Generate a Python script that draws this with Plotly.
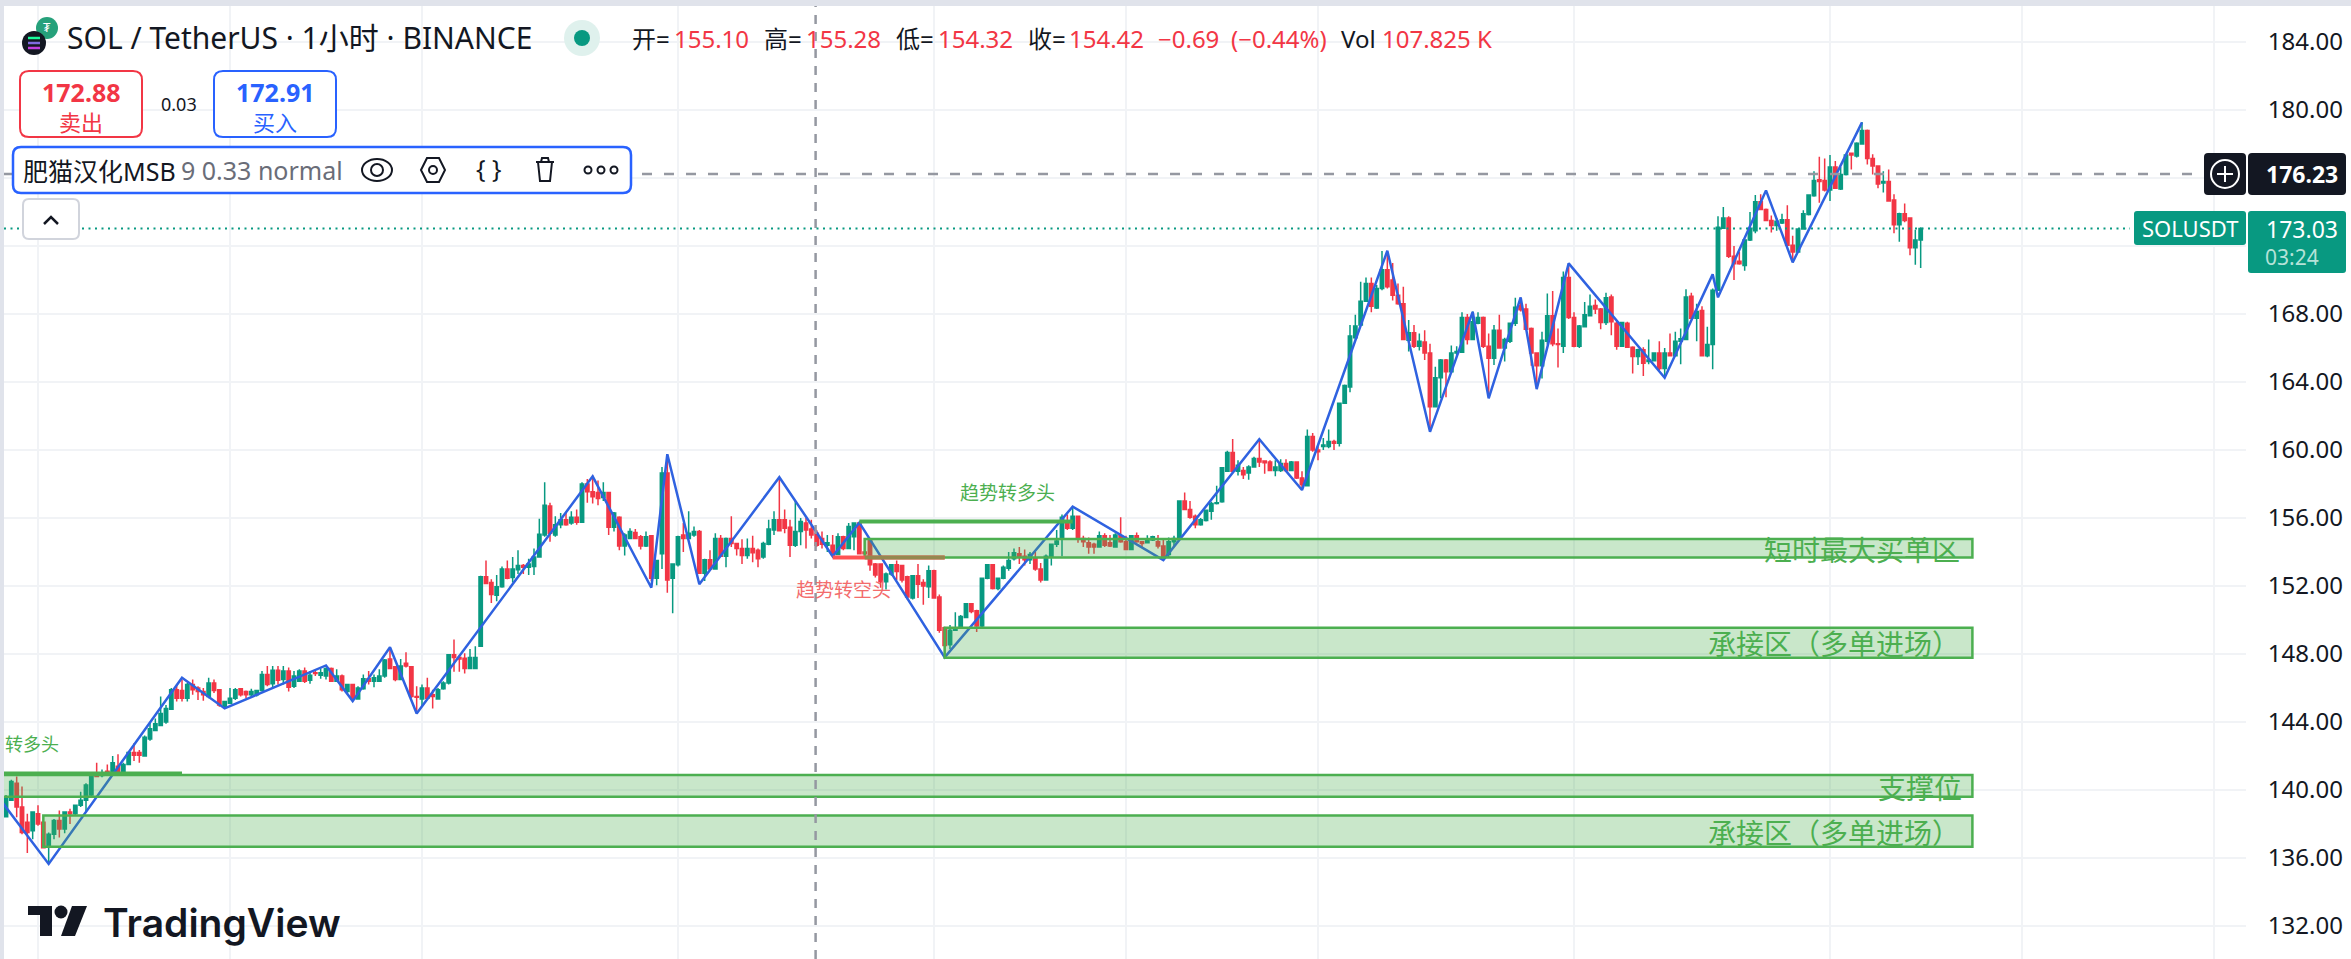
# coding: utf-8
import plotly.graph_objects as go

# hourly bars, index 0 sits on the first vertical grid line
bar_index = list(range(-6, 354))

open_prices = [
    138.43, 139.4, 140.4, 139.0, 138.1, 137.6, 138.6, 138.1, 136.7, 137.4,
    138.2, 137.7, 138.7, 138.6, 139.1, 139.4, 139.7, 140.9, 140.85, 141.1,
    141.0, 141.4, 141.0, 141.5, 142.2, 142.2, 142.0, 143.0, 143.5, 143.8,
    144.0, 144.75, 145.9, 145.85, 145.4, 146.2, 146.0, 145.8, 145.5, 146.3,
    145.9, 144.9, 145.1, 145.4, 145.95, 145.8, 145.6, 145.6, 145.85, 146.8,
    146.25, 147.05, 146.5, 147.0, 146.1, 146.4, 147.0, 146.45, 146.9, 146.75,
    146.7, 147.15, 146.4, 146.7, 145.8, 146.2, 145.35, 145.95, 146.55, 146.4,
    146.4, 146.7, 147.7, 147.25, 146.5, 147.45, 147.25, 145.5, 145.35, 146.0,
    145.6, 145.35, 145.95, 146.3, 147.95, 147.8, 147.75, 147.15, 147.15, 148.45,
    152.55, 152.2, 151.45, 151.95, 153.0, 152.5, 152.95, 153.2, 153.1, 153.15,
    153.7, 155.0, 156.7, 155.0, 155.6, 155.9, 155.7, 156.05, 155.75, 158.0,
    157.55, 157.5, 157.2, 157.5, 155.45, 156.05, 154.35, 154.8, 155.15, 154.9,
    154.35, 154.95, 152.45, 153.9, 158.65, 152.45, 153.25, 155.0, 154.8, 155.0,
    155.2, 152.75, 153.55, 153.0, 154.8, 153.75, 154.8, 154.5, 154.2, 153.8,
    154.2, 154.1, 153.7, 154.45, 155.3, 155.9, 155.9, 155.45, 154.4, 155.2,
    155.7, 155.35, 155.1, 154.8, 154.4, 154.4, 153.85, 154.9, 154.2, 154.9,
    155.7, 154.0, 154.7, 153.3, 153.3, 152.25, 152.7, 153.25, 153.2, 152.55,
    151.3, 152.6, 152.2, 151.95, 152.9, 151.35, 149.55, 148.55, 149.4, 149.55,
    150.15, 150.95, 150.55, 149.65, 152.45, 153.25, 151.85, 152.45, 153.05, 153.6,
    153.9, 153.75, 153.55, 153.65, 153.0, 152.35, 153.75, 154.45, 154.8, 155.7,
    155.4, 156.1, 154.8, 154.55, 154.45, 154.3, 154.95, 154.55, 154.3, 154.95,
    154.6, 154.15, 154.95, 154.6, 154.55, 154.7, 154.6, 154.35, 153.85, 154.6,
    154.8, 157.0, 156.5, 156.1, 155.6, 155.85, 156.4, 156.85, 156.95, 158.75,
    159.85, 158.75, 158.8, 158.65, 159.0, 159.5, 159.35, 159.3, 158.8, 158.8,
    159.2, 158.8, 159.3, 158.35, 157.9, 160.8, 160.0, 160.2, 160.2, 160.5,
    160.4, 162.75, 163.7, 166.6, 167.35, 168.75, 169.8, 168.35, 169.5, 170.6,
    170.0, 169.1, 168.6, 166.45, 166.9, 166.1, 166.35, 165.7, 162.55, 164.25,
    165.3, 164.6, 165.7, 165.75, 167.8, 166.5, 167.45, 167.8, 166.1, 165.4,
    167.05, 166.0, 166.4, 167.45, 168.5, 168.3, 167.15, 165.7, 164.95, 166.4,
    167.9, 166.25, 166.1, 170.15, 167.8, 166.1, 167.25, 167.9, 168.5, 168.3,
    167.5, 169.0, 167.45, 166.1, 167.45, 166.05, 165.5, 165.9, 165.2, 165.25,
    165.7, 164.8, 165.7, 165.55, 166.4, 166.5, 169.05, 167.75, 168.2, 165.55,
    166.2, 169.4, 173.05, 173.65, 171.4, 171.1, 170.85, 172.35, 172.9, 174.6,
    174.15, 173.5, 173.2, 173.35, 173.55, 172.05, 171.65, 173.0, 173.85, 174.95,
    175.9, 175.85, 175.3, 176.65, 175.35, 176.2, 177.45, 177.3, 178.0, 178.8,
    177.15, 176.7, 175.7, 175.8, 174.7, 173.25, 173.9, 173.65, 171.9, 172.35,
]
high_prices = [
    139.7, 140.6, 140.8, 140.2, 138.6, 138.7, 139.1, 138.2, 137.5, 138.3,
    138.8, 138.7, 138.9, 139.1, 139.9, 140.4, 140.9, 141.6, 141.2, 141.5,
    142.0, 142.1, 141.6, 142.3, 142.75, 142.35, 143.2, 144.0, 144.2, 145.5,
    145.0, 146.0, 146.2, 146.5, 146.3, 146.5, 146.1, 146.0, 146.6, 146.5,
    145.9, 145.25, 146.0, 146.0, 146.0, 145.85, 145.95, 145.9, 147.0, 147.3,
    147.3, 147.3, 147.3, 147.2, 147.0, 147.1, 147.2, 147.0, 147.0, 147.15,
    147.2, 147.2, 147.1, 146.8, 146.2, 146.2, 146.1, 146.8, 147.0, 146.8,
    147.1, 147.7, 148.3, 147.3, 147.7, 148.1, 147.3, 146.1, 146.2, 146.6,
    145.9, 146.0, 146.4, 148.0, 148.85, 147.9, 148.05, 148.3, 148.45, 152.6,
    153.5, 152.4, 152.65, 153.15, 153.5, 153.7, 154.1, 153.3, 153.6, 154.2,
    155.95, 158.1, 156.9, 156.1, 156.3, 156.35, 156.4, 156.5, 158.1, 158.3,
    158.5, 158.2, 158.1, 157.55, 156.35, 156.1, 155.1, 155.4, 155.35, 155.0,
    155.2, 155.0, 153.5, 159.0, 159.7, 153.3, 154.95, 155.7, 156.4, 155.5,
    155.3, 153.6, 154.1, 155.1, 155.0, 154.85, 156.1, 154.55, 154.75, 154.8,
    154.95, 154.2, 154.6, 155.9, 156.4, 158.4, 156.5, 155.9, 157.0, 156.0,
    156.0, 155.9, 155.3, 155.2, 155.0, 155.0, 155.1, 154.95, 155.7, 155.75,
    155.75, 154.8, 154.75, 153.35, 153.3, 152.8, 153.3, 153.5, 153.2, 152.6,
    152.6, 153.3, 152.4, 153.2, 152.95, 151.5, 149.6, 149.7, 150.45, 150.3,
    151.0, 151.0, 150.6, 152.5, 153.3, 153.3, 152.5, 153.2, 154.0, 154.2,
    154.3, 154.15, 154.0, 154.0, 153.35, 153.85, 154.5, 155.3, 156.2, 156.2,
    156.7, 156.15, 154.95, 154.85, 154.55, 155.2, 155.1, 155.0, 155.1, 156.05,
    154.95, 155.0, 155.15, 154.65, 154.98, 154.95, 155.0, 154.7, 154.85, 154.95,
    157.05, 157.5, 157.0, 156.2, 156.0, 156.5, 156.95, 157.9, 159.0, 159.95,
    160.65, 159.4, 159.0, 159.1, 159.6, 160.6, 159.4, 159.4, 159.4, 159.45,
    159.45, 159.35, 159.3, 158.75, 161.2, 161.0, 160.2, 160.7, 161.2, 160.6,
    162.8, 163.85, 167.35, 167.95, 169.9, 170.15, 170.15, 169.7, 171.7, 171.65,
    171.0, 169.8, 169.6, 167.65, 167.35, 166.85, 167.05, 166.25, 164.9, 165.35,
    165.35, 166.15, 166.1, 168.1, 168.0, 168.15, 168.1, 167.85, 166.85, 167.35,
    167.95, 166.6, 167.5, 168.95, 168.95, 168.6, 167.2, 165.75, 166.95, 169.2,
    169.35, 167.15, 170.5, 171.0, 168.1, 167.35, 168.7, 169.15, 168.85, 168.35,
    169.25, 169.15, 167.65, 167.55, 167.55, 166.1, 165.95, 166.05, 166.5, 165.75,
    166.4, 166.0, 166.85, 166.95, 167.15, 169.45, 169.25, 168.6, 168.45, 167.25,
    169.5, 173.75, 174.3, 173.75, 172.0, 171.65, 172.4, 174.0, 175.0, 175.05,
    174.2, 173.8, 173.65, 173.9, 174.4, 172.6, 173.05, 174.1, 175.05, 176.4,
    177.25, 177.15, 177.35, 177.0, 176.65, 177.4, 177.5, 178.1, 179.3, 178.85,
    177.4, 176.75, 176.4, 176.5, 175.05, 173.95, 174.5, 173.65, 172.95, 173.1,
]
low_prices = [
    138.4, 139.4, 138.4, 137.4, 136.3, 137.1, 137.9, 136.6, 135.7, 137.1,
    137.2, 137.45, 138.0, 138.5, 139.0, 138.7, 139.6, 140.8, 140.75, 140.9,
    140.9, 140.9, 141.0, 141.5, 141.7, 141.6, 142.0, 142.9, 143.5, 143.8,
    143.9, 144.75, 145.2, 145.2, 145.2, 145.6, 145.3, 145.25, 145.4, 145.7,
    144.9, 144.85, 145.1, 145.3, 145.5, 145.4, 145.5, 145.5, 145.8, 146.1,
    146.0, 146.2, 146.2, 145.8, 146.0, 146.35, 146.3, 146.25, 146.7, 146.55,
    146.5, 146.35, 146.35, 145.8, 145.7, 145.2, 145.35, 145.9, 146.2, 146.05,
    146.4, 146.6, 147.1, 146.4, 146.45, 147.2, 145.4, 144.5, 144.9, 145.3,
    144.8, 145.35, 145.9, 146.2, 146.95, 146.95, 146.85, 147.1, 147.15, 148.45,
    152.1, 151.0, 151.1, 151.9, 152.4, 152.2, 152.7, 152.7, 152.65, 152.65,
    153.7, 154.9, 154.6, 154.9, 155.4, 155.55, 155.6, 155.6, 155.7, 156.9,
    156.85, 156.75, 157.0, 155.0, 155.2, 154.1, 153.8, 154.8, 154.75, 154.15,
    154.3, 152.3, 152.05, 153.0, 151.6, 150.4, 153.15, 154.0, 154.8, 154.9,
    152.7, 152.3, 152.9, 153.0, 153.7, 153.1, 154.3, 153.8, 153.3, 153.6,
    153.4, 153.1, 153.6, 154.4, 155.0, 155.2, 155.1, 153.7, 154.3, 154.4,
    154.2, 154.8, 154.3, 154.2, 154.0, 153.8, 153.85, 154.1, 154.2, 154.1,
    153.85, 153.85, 152.9, 152.5, 151.9, 151.8, 152.6, 152.35, 152.2, 151.2,
    151.2, 151.3, 150.9, 151.3, 151.25, 149.25, 147.85, 148.3, 149.4, 149.5,
    150.1, 150.4, 149.3, 149.55, 152.4, 151.8, 151.75, 152.4, 152.9, 153.5,
    153.3, 153.2, 153.3, 152.9, 152.2, 152.35, 153.2, 154.3, 153.75, 155.3,
    155.3, 154.55, 154.3, 153.9, 153.9, 154.3, 154.3, 154.3, 154.25, 154.55,
    154.1, 154.1, 154.55, 154.3, 154.5, 154.65, 154.2, 153.7, 153.7, 154.3,
    154.75, 156.45, 155.95, 155.4, 155.55, 155.8, 155.9, 156.8, 156.9, 158.7,
    158.7, 158.5, 158.3, 158.25, 158.95, 159.0, 158.6, 158.75, 158.45, 158.7,
    158.7, 158.75, 158.3, 157.7, 157.9, 159.9, 159.4, 160.0, 160.1, 160.0,
    160.2, 162.7, 163.4, 166.5, 167.3, 168.7, 168.1, 168.3, 169.4, 169.5,
    168.8, 168.55, 166.45, 165.8, 166.0, 165.85, 165.3, 161.1, 162.5, 163.05,
    163.1, 164.5, 165.5, 165.7, 166.2, 166.45, 167.4, 166.0, 163.1, 165.0,
    165.95, 165.2, 166.3, 167.3, 168.15, 167.05, 164.95, 163.9, 164.2, 166.2,
    166.1, 164.85, 165.7, 167.7, 166.05, 166.0, 167.2, 167.85, 168.0, 167.1,
    167.35, 166.75, 165.9, 166.1, 166.0, 164.5, 165.0, 164.35, 165.05, 165.2,
    164.7, 164.3, 165.5, 165.5, 165.05, 166.45, 167.7, 166.4, 165.5, 165.45,
    164.75, 169.35, 173.0, 171.3, 170.0, 170.9, 170.55, 172.3, 172.75, 174.1,
    173.45, 172.8, 172.9, 173.3, 172.0, 171.1, 171.6, 172.95, 173.8, 174.9,
    174.55, 175.2, 174.65, 175.35, 175.3, 176.15, 176.5, 177.2, 178.0, 176.8,
    176.2, 175.4, 175.15, 174.6, 172.75, 172.25, 173.4, 171.45, 170.9, 170.7,
]
close_prices = [
    139.6, 140.5, 139.0, 137.5, 137.5, 138.7, 138.0, 136.6, 137.4, 138.2,
    137.7, 138.7, 138.6, 139.1, 139.4, 140.3, 140.8, 140.8, 141.0, 141.0,
    141.6, 141.0, 141.5, 142.2, 142.05, 142.05, 143.1, 143.6, 143.9, 144.5,
    144.8, 145.9, 145.4, 145.4, 146.2, 145.9, 145.8, 145.6, 146.3, 145.85,
    145.0, 145.2, 145.4, 145.9, 145.6, 145.6, 145.8, 145.85, 146.8, 146.2,
    147.05, 146.45, 147.0, 146.05, 146.7, 147.0, 146.4, 146.75, 146.85, 146.9,
    147.15, 146.4, 146.7, 145.9, 146.2, 145.35, 146.0, 146.55, 146.4, 146.6,
    146.7, 147.65, 147.15, 146.5, 147.3, 147.3, 145.5, 145.45, 146.0, 145.4,
    145.5, 145.9, 146.3, 147.95, 147.8, 147.7, 147.15, 147.8, 147.8, 152.55,
    152.15, 151.5, 151.95, 153.0, 152.45, 153.0, 153.2, 153.1, 153.3, 153.7,
    155.05, 156.75, 155.1, 155.6, 155.9, 155.6, 156.05, 155.75, 158.0, 157.55,
    157.25, 157.15, 157.5, 155.45, 156.3, 154.35, 155.0, 155.2, 154.8, 154.35,
    154.9, 152.45, 153.5, 158.65, 152.35, 153.3, 154.9, 154.8, 155.1, 155.2,
    152.75, 153.55, 153.0, 154.8, 153.75, 154.8, 154.5, 154.2, 153.8, 154.2,
    153.95, 153.6, 154.5, 155.35, 155.9, 155.25, 155.4, 154.4, 155.2, 155.8,
    155.3, 155.0, 154.4, 154.45, 154.55, 153.85, 154.9, 154.2, 155.5, 155.7,
    153.9, 153.9, 153.25, 152.65, 152.25, 152.7, 153.25, 152.85, 152.35, 151.35,
    152.6, 152.1, 152.0, 152.9, 151.3, 149.4, 148.5, 149.4, 149.55, 150.2,
    150.95, 150.5, 149.65, 152.45, 153.25, 151.85, 152.45, 153.1, 153.5, 153.95,
    153.7, 153.55, 153.85, 153.0, 152.35, 153.75, 154.45, 154.65, 156.05, 155.4,
    156.1, 154.8, 154.6, 154.3, 154.3, 154.95, 154.4, 154.35, 155.0, 154.6,
    154.15, 154.95, 154.6, 154.5, 154.75, 154.9, 154.35, 153.75, 154.6, 154.8,
    157.0, 156.5, 156.05, 155.6, 155.9, 156.45, 156.85, 156.9, 158.95, 159.85,
    158.75, 159.1, 158.55, 159.0, 159.5, 159.3, 159.25, 158.8, 159.0, 159.2,
    158.8, 159.3, 158.35, 157.95, 160.8, 160.0, 159.9, 160.3, 160.5, 160.4,
    162.75, 163.8, 166.7, 167.3, 168.75, 169.8, 168.45, 169.5, 170.6, 169.6,
    169.1, 168.6, 166.5, 166.9, 166.1, 166.4, 165.7, 162.55, 164.25, 165.3,
    164.6, 165.7, 165.8, 167.8, 166.5, 167.55, 167.8, 166.1, 165.4, 167.05,
    166.0, 166.5, 167.45, 168.4, 168.25, 167.1, 165.7, 164.95, 166.45, 167.9,
    166.25, 166.2, 170.15, 167.8, 166.1, 167.3, 167.95, 168.45, 168.3, 167.5,
    168.95, 167.55, 166.1, 167.5, 166.05, 165.5, 165.9, 165.1, 165.3, 165.7,
    164.8, 165.7, 165.55, 166.4, 166.55, 169.0, 167.75, 168.15, 165.55, 166.2,
    169.4, 173.1, 173.65, 171.4, 170.95, 170.95, 172.35, 173.05, 174.6, 174.15,
    173.5, 173.2, 173.45, 173.55, 172.05, 171.65, 173.0, 173.9, 175.0, 175.85,
    175.8, 175.3, 176.65, 175.4, 176.2, 177.35, 177.35, 178.05, 178.8, 177.15,
    176.7, 175.65, 175.8, 174.65, 173.25, 173.9, 173.5, 171.9, 172.35, 173.03,
]

# MSB zigzag pivots
zigzag_bars = [-7, 2, 27, 35, 54, 59, 66, 71, 104, 115, 118, 124, 139, 149, 154, 170,
               194, 211, 229, 237, 253, 261, 269, 272, 278, 281, 287, 305, 314, 315,
               324, 329, 342]
zigzag_prices = [139.4, 135.65, 146.6, 144.8, 147.33, 145.23, 148.4, 144.5, 158.45, 151.9,
                 159.75, 152.1, 158.4, 153.75, 155.73, 147.8, 156.67, 153.53, 160.63, 157.65,
                 171.72, 161.07, 168.13, 163.04, 168.98, 163.58, 170.98, 164.25, 170.33,
                 168.98, 175.27, 171.04, 179.27]

# demand zones
zone_starts = [1, -12, 170, 155]
zone_tops = [138.5, 140.88, 149.55, 154.76]
zone_bottoms = [136.66, 139.6, 147.78, 153.67]
zone_end = 362.7

# structure break lines: bull left, bull mid, bear mid
bull_left_x, bull_left_y = [-12, 27], [140.98, 140.98]
bull_mid_x, bull_mid_y = [154, 194], [155.79, 155.79]
bear_mid_x, bear_mid_y = [149, 170], [153.67, 153.67]

price_ticks = [132, 136, 140, 144, 148, 152, 156, 160, 164, 168, 172, 176, 180, 184]
# 172 and 176 sit behind the price tags
price_tick_labels = ["132.00", "136.00", "140.00", "144.00", "148.00", "152.00", "156.00", "160.00",
                     "164.00", "168.00", "", "", "180.00", "184.00"]
time_grid = [0, 36, 72, 120, 168, 204, 240, 288, 336, 372, 408]

crosshair_bar = 145.8
crosshair_price = 176.23
last_price = 173.03

UP = "#089981"
DOWN = "#f23645"
INK = "#131722"
BLUE = "#2f62e0"
ZONE = "#4caf50"
GRID = "#f1f3f6"
CJK = "Noto Sans CJK SC"
LATIN = "Noto Sans, Noto Sans CJK SC"

W, H = 2351, 959
L, R, T, B = 4, 105, 6, 0


def fx(x):
    return (x - L) / (W - L - R)


def fy(y):
    return 1 - (y - T) / (H - T - B)


def label(x, y, text, size, color=INK, anchor="left", family=LATIN, weight="normal"):
    annotations.append(dict(xref="paper", yref="paper", x=fx(x), y=fy(y), text=text, showarrow=False,
                            xanchor=anchor, yanchor="middle", borderpad=0,
                            font=dict(size=size, color=color, family=family, weight=weight)))


def rounded(x0, y0, x1, y1, r):
    pts = "M{} {} L{} {} Q{} {} {} {} L{} {} Q{} {} {} {} L{} {} Q{} {} {} {} L{} {} Q{} {} {} {} Z".format(
        fx(x0 + r), fy(y0), fx(x1 - r), fy(y0), fx(x1), fy(y0), fx(x1), fy(y0 + r),
        fx(x1), fy(y1 - r), fx(x1), fy(y1), fx(x1 - r), fy(y1),
        fx(x0 + r), fy(y1), fx(x0), fy(y1), fx(x0), fy(y1 - r),
        fx(x0), fy(y0 + r), fx(x0), fy(y0), fx(x0 + r), fy(y0))
    return pts


def box(x0, y0, x1, y1, r, fill="white", line=None, width=2):
    shapes.append(dict(type="path", xref="paper", yref="paper", path=rounded(x0, y0, x1, y1, r),
                       fillcolor=fill, line=dict(color=line or fill, width=width if line else 0), layer="above"))


def poly(points, fill=None, line=None, width=2, close=True):
    path = "M" + " L".join("{} {}".format(fx(a), fy(b)) for a, b in points) + (" Z" if close else "")
    shapes.append(dict(type="path", xref="paper", yref="paper", path=path, fillcolor=fill or "rgba(0,0,0,0)",
                       line=dict(color=line or "rgba(0,0,0,0)", width=width), layer="above"))


def circle(cx, cy, rx, ry=None, fill=None, line=None, width=2):
    ry = ry or rx
    shapes.append(dict(type="circle", xref="paper", yref="paper", x0=fx(cx - rx), x1=fx(cx + rx),
                       y0=fy(cy + ry), y1=fy(cy - ry), fillcolor=fill or "rgba(0,0,0,0)",
                       line=dict(color=line or "rgba(0,0,0,0)", width=width if line else 0), layer="above"))


shapes = []
annotations = []

# zones sit over the candles
for start, top, bottom in zip(zone_starts, zone_tops, zone_bottoms):
    shapes.append(dict(type="rect", xref="x", yref="y", x0=start, x1=zone_end, y0=bottom, y1=top,
                       fillcolor="rgba(76,175,80,0.3)", line=dict(color=ZONE, width=2.5), layer="above"))

for xs, ys, color, width in [(bull_left_x, bull_left_y, ZONE, 3.5), (bull_mid_x, bull_mid_y, ZONE, 4),
                             (bear_mid_x, bear_mid_y, "#ff5252", 4), ([155, 170], bear_mid_y, "#94884f", 4)]:
    shapes.append(dict(type="line", xref="x", yref="y", x0=xs[0], x1=xs[1], y0=ys[0], y1=ys[1],
                       line=dict(color=color, width=width), layer="above"))

# crosshair and last price line
shapes.append(dict(type="line", xref="x", yref="paper", x0=crosshair_bar, x1=crosshair_bar, y0=0, y1=1,
                   line=dict(color="#9598a1", width=2.5, dash="9px,8px"), layer="above"))
shapes.append(dict(type="line", xref="paper", yref="y", x0=0, x1=fx(2192), y0=crosshair_price, y1=crosshair_price,
                   line=dict(color="#9598a1", width=2.5, dash="10px,12px"), layer="above"))
shapes.append(dict(type="line", xref="paper", yref="y", x0=0, x1=fx(2130), y0=last_price, y1=last_price,
                   line=dict(color=UP, width=2, dash="2px,4.5px"), layer="above"))

# window edge
shapes.append(dict(type="rect", xref="paper", yref="paper", x0=fx(0), x1=fx(W), y0=fy(6), y1=fy(0),
                   fillcolor="#e0e3eb", line=dict(width=0), layer="above"))
shapes.append(dict(type="rect", xref="paper", yref="paper", x0=fx(0), x1=fx(4), y0=fy(H), y1=fy(0),
                   fillcolor="#e0e3eb", line=dict(width=0), layer="above"))

# symbol icons
circle(47, 28, 11, fill="#26a17b")
circle(34, 43, 12, fill=INK)
for yy, col in [(38, "#19fb9b"), (43, "#7f6be0"), (48, "#c23fe0")]:
    poly([(28, yy), (40, yy)], line=col, width=2.5, close=False)
label(47, 27, "₮", 13, "white", "center")

label(66, 38, "SOL / TetherUS · 1小时 · BINANCE", 30)
circle(582, 38, 18, 18, fill="#dff1ed")
circle(582, 38, 8, 8, fill=UP)

# OHLC legend row
legend_row = [(631, "开=", INK), (673, "155.10", DOWN), (763, "高=", INK), (805, "155.28", DOWN),
              (895, "低=", INK), (937, "154.32", DOWN), (1027, "收=", INK), (1068, "154.42", DOWN),
              (1157, "−0.69", DOWN), (1230, "(−0.44%)", DOWN), (1340, "Vol", INK), (1381, "107.825 K", DOWN)]
for xx, txt, col in legend_row:
    label(xx, 39, txt, 24, col)

# buy / sell
box(20, 71, 142, 137, 9, line=DOWN, width=2)
label(81, 92, "172.88", 25, DOWN, "center", weight="bold")
label(81, 121, "卖出", 22, DOWN, "center", CJK)
label(179, 104, "0.03", 18, INK, "center")
box(214, 71, 336, 137, 9, line="#2962ff", width=2)
label(275, 92, "172.91", 25, "#2962ff", "center", weight="bold")
label(275, 121, "买入", 22, "#2962ff", "center", CJK)

# indicator legend
box(13, 147, 631, 193, 8, line="#2962ff", width=2.5)
label(22, 171, "肥猫汉化MSB", 25)
label(180, 170, "9 0.33 normal", 25, "#6a6d78")
circle(377, 170, 15, 11, line=INK, width=2)
circle(377, 170, 6, fill=None, line=INK, width=2)
poly([(421, 170), (427, 158), (439, 158), (445, 170), (439, 182), (427, 182)], line=INK, width=2)
circle(433, 170, 4, line=INK, width=2)
label(489, 168, "{ }", 25, INK, "center")
poly([(536, 162), (554, 162)], line=INK, width=2, close=False)
poly([(538, 162), (540, 181), (550, 181), (552, 162)], line=INK, width=2, close=False)
poly([(541, 162), (542, 158), (548, 158), (549, 162)], line=INK, width=2, close=False)
for xx in [588, 601, 614]:
    circle(xx, 170, 3.5, line=INK, width=2)

# collapse button
box(23, 199, 79, 239, 6, line="#d1d4dc", width=2)
poly([(44, 224), (51, 217), (58, 224)], line=INK, width=2.5, close=False)

# logo
poly([(28, 906), (52, 906), (52, 936), (40, 936), (40, 915), (28, 915)], fill=INK, width=0)
circle(61, 912, 6.5, fill=INK)
poly([(72, 906), (87, 906), (75, 936), (61, 936)], fill=INK, width=0)
label(102, 922, "TradingView", 39, INK, family="Inter", weight=600)

# zone and break labels
label(1961, 549, "短时最大买单区", 28, ZONE, "right", CJK)
label(1961, 643, "承接区（多单进场）", 28, ZONE, "right", CJK)
label(1963, 787, "支撑位", 28, ZONE, "right", CJK)
label(1961, 832, "承接区（多单进场）", 28, ZONE, "right", CJK)
label(4, 743, "转多头", 18, ZONE, "left", CJK)
label(959, 491, "趋势转多头", 19, ZONE, "left", CJK)
label(795, 588, "趋势转空头", 19, "#f36c6c", "left", CJK)

# price scale tags
box(2204, 153, 2246, 195, 4, fill=INK)
circle(2225, 174, 14, line="white", width=2)
poly([(2217, 174), (2233, 174)], line="white", width=2, close=False)
poly([(2225, 166), (2225, 182)], line="white", width=2, close=False)
box(2248, 153, 2346, 195, 4, fill=INK)
label(2265, 174, "176.23", 23, "white", weight="bold")
box(2134, 211, 2246, 245, 3, fill=UP)
label(2190, 228, "SOLUSDT", 22, "white", "center")
box(2248, 211, 2346, 273, 3, fill=UP)
label(2265, 229, "173.03", 23, "white")
label(2264, 257, "03:24", 21, "#b5e2d8")

fig = go.Figure()
fig.add_trace(go.Candlestick(x=bar_index, open=open_prices, high=high_prices, low=low_prices, close=close_prices,
                             increasing=dict(line=dict(color=UP, width=1.5), fillcolor=UP),
                             decreasing=dict(line=dict(color=DOWN, width=1.5), fillcolor=DOWN),
                             whiskerwidth=0, hoverinfo="skip"))
fig.add_trace(go.Scatter(x=zigzag_bars, y=zigzag_prices, mode="lines", line=dict(color=BLUE, width=2.5), hoverinfo="skip"))

fig.update_layout(width=W, height=H, margin=dict(l=L, r=R, t=T, b=B), showlegend=False,
                  paper_bgcolor="white", plot_bgcolor="white", boxgap=0.1,
                  shapes=shapes, annotations=annotations, font=dict(family=LATIN))
fig.update_xaxes(range=[-6.375, 414], tickmode="array", tickvals=time_grid, showticklabels=False, ticks="",
                 showgrid=True, gridcolor=GRID, gridwidth=1.5, zeroline=False, rangeslider=dict(visible=False))
fig.update_yaxes(range=[130.06, 186.118], side="right", tickmode="array", tickvals=price_ticks,
                 ticktext=price_tick_labels, ticks="outside", ticklen=16, tickcolor="white",
                 tickfont=dict(size=24, color=INK, family=LATIN), showgrid=True, gridcolor=GRID, gridwidth=1.5,
                 zeroline=False, showline=False)

fig.write_html("out.html", config={"displayModeBar": False}, post_script="document.body.style.margin='0';")
